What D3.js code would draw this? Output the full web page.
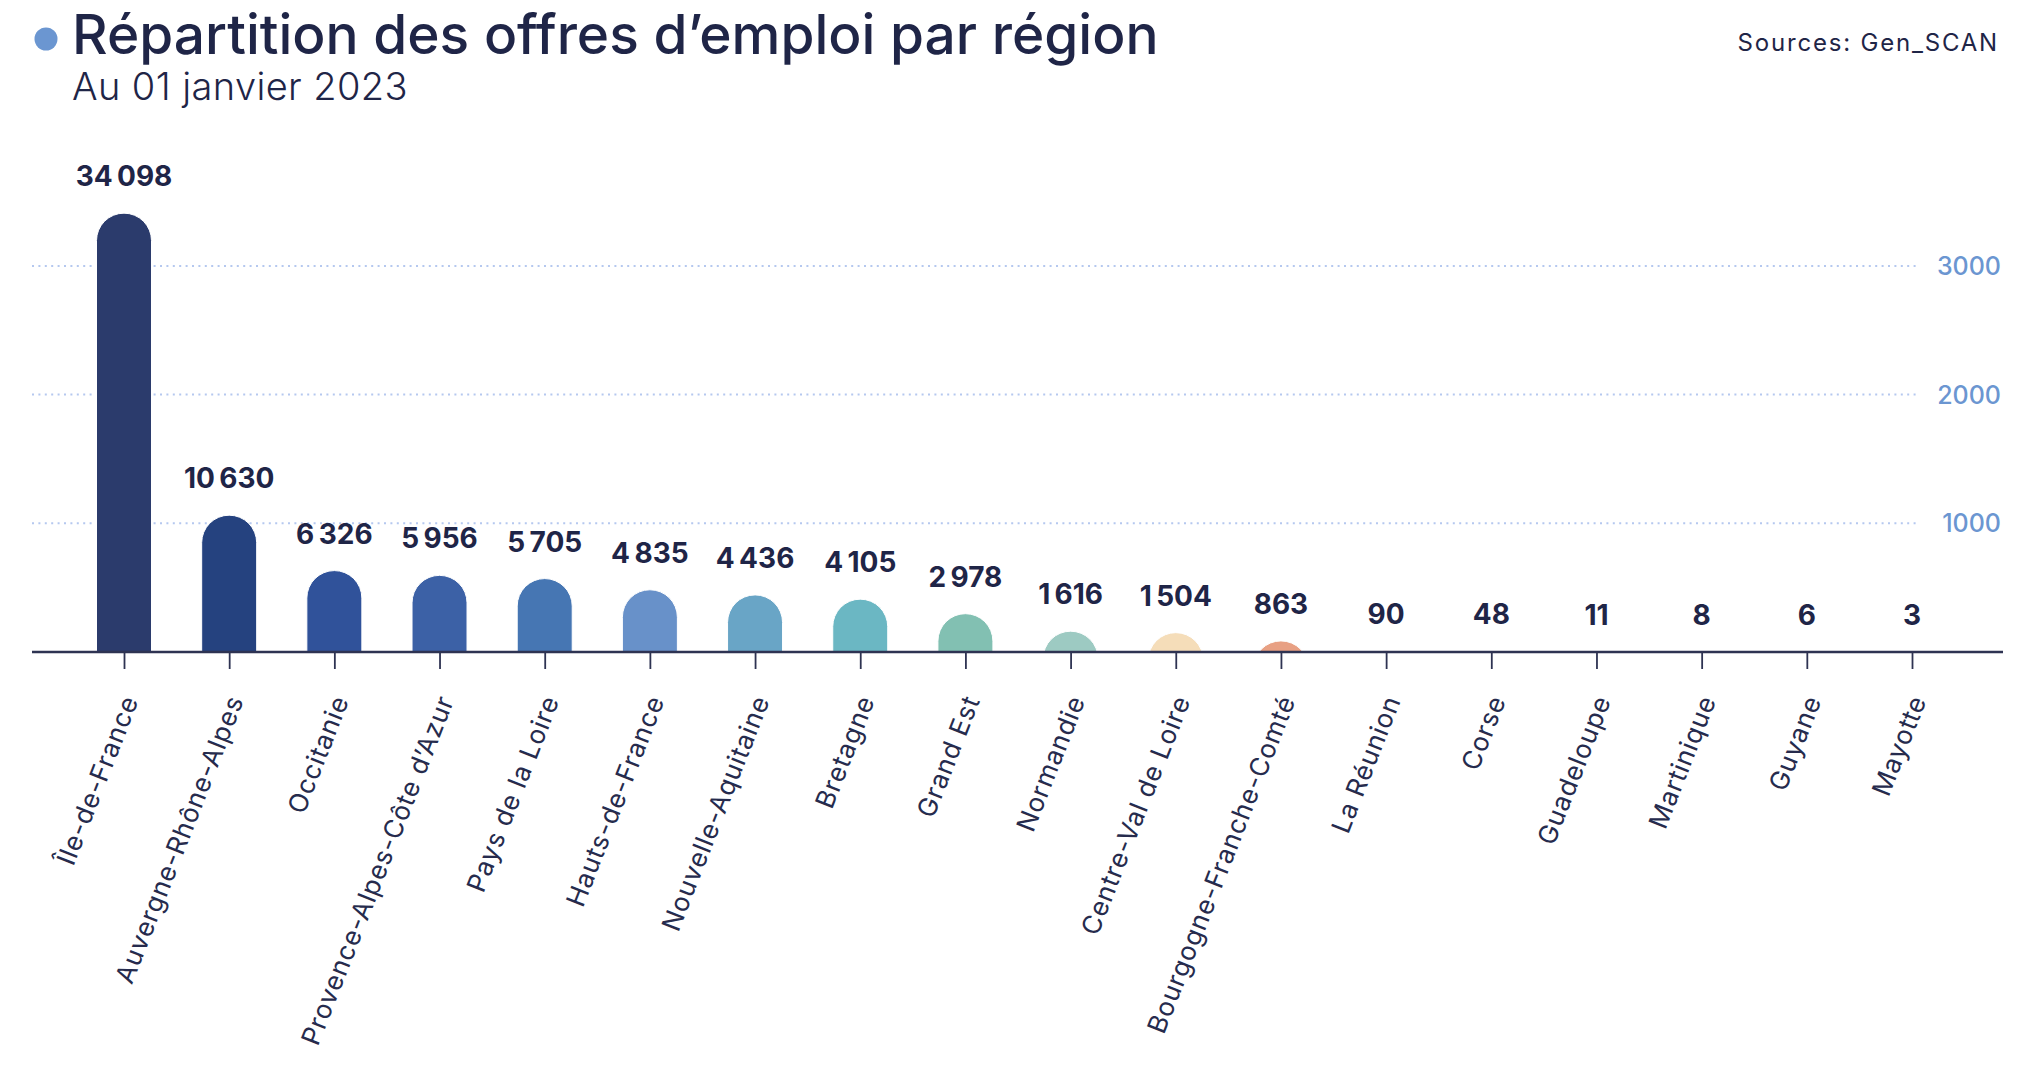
<!DOCTYPE html>
<html>
<head>
<meta charset="utf-8">
<script src="https://cdn.jsdelivr.net/npm/d3@7"></script>
<style>
  html, body { margin: 0; padding: 0; background: #ffffff; }
  svg { display: block; }
</style>
</head>
<body>
<svg id="chart" width="2022" height="1068"></svg>
<script>
const regions = ["Île-de-France", "Auvergne-Rhône-Alpes", "Occitanie", "Provence-Alpes-Côte d’Azur",
  "Pays de la Loire", "Hauts-de-France", "Nouvelle-Aquitaine", "Bretagne", "Grand Est", "Normandie",
  "Centre-Val de Loire", "Bourgogne-Franche-Comté", "La Réunion", "Corse", "Guadeloupe", "Martinique",
  "Guyane", "Mayotte"];
const offres = [34098, 10630, 6326, 5956, 5705, 4835, 4436, 4105, 2978, 1616, 1504, 863, 90, 48, 11, 8, 6, 3];
const barColors = ["#2b3b6c", "#25427f", "#30529a", "#3c61a6", "#4676b3", "#6891c9", "#69a5c6", "#6bb7c3",
  "#82c0b2", "#9dcac2", "#f5ddb9", "#e8a083", "#e08a70", "#d9735f", "#cf6155", "#c2504c", "#b24245", "#a1363f"];
const yTickValues = [1000, 2000, 3000];
const unitDivisor = 10; // bar heights on the axis are drawn in tens of offers

const title = "Répartition des offres d’emploi par région";
const subtitle = "Au 01 janvier 2023";
const source = "Sources: Gen_SCAN";

const svg = d3.select("#chart");
const FONT = "Inter, 'Noto Sans', sans-serif";
const NAVY = "#1f2547";
const BLUE = "#6b96d1";

const baseY = 652;
const x = d3.scalePoint().domain(regions).range([124, 1912]);
const y = d3.scaleLinear().domain([0, 1000]).range([baseY, baseY - 128.7]);
const barW = 55, r = barW / 2;

const fmt = d3.formatLocale({decimal: ",", thousands: "\u202f", grouping: [3], currency: ["", "€"]}).format(",d");

// gridlines
svg.append("g").selectAll("line").data(yTickValues).join("line")
  .attr("x1", 32).attr("x2", 1916)
  .attr("y1", d => y(d)).attr("y2", d => y(d))
  .attr("stroke", "#b5c8ef").attr("stroke-width", 2)
  .attr("stroke-dasharray", "2,4.4");

// y tick labels (right side)
svg.append("g").selectAll("text").data(yTickValues).join("text")
  .attr("x", 2001).attr("y", d => y(d))
  .attr("dy", "0.36em")
  .attr("text-anchor", "end")
  .attr("font-family", FONT).attr("font-size", 25).attr("font-weight", 500)
  .attr("fill", BLUE)
  .text(d => d);

// clip for bars
svg.append("defs").append("clipPath").attr("id", "plotclip")
  .append("rect").attr("x", 0).attr("y", 0).attr("width", 2022).attr("height", baseY);

const data = regions.map((name, i) => ({name, value: offres[i], color: barColors[i]}));

svg.append("g").attr("clip-path", "url(#plotclip)")
  .selectAll("rect").data(data).join("rect")
  .attr("x", d => x(d.name) - r)
  .attr("y", d => y(d.value / unitDivisor))
  .attr("width", barW)
  .attr("height", d => baseY - y(d.value / unitDivisor) + 2 * r)
  .attr("rx", r).attr("ry", r)
  .attr("fill", d => d.color)
  .attr("stroke", "#ffffff").attr("stroke-width", 1);

// value labels
svg.append("g").selectAll("text").data(data).join("text")
  .attr("x", d => x(d.name))
  .attr("y", d => y(d.value / unitDivisor) - 27)
  .attr("text-anchor", "middle")
  .attr("font-family", FONT).attr("font-size", 28).attr("font-weight", 700)
  .attr("fill", NAVY)
  .text(d => fmt(d.value));

// x axis
const xAxis = d3.axisBottom(x).tickSize(17).tickFormat("");
const gx = svg.append("g").attr("transform", `translate(0,${baseY})`).call(xAxis);
gx.select(".domain").remove();
gx.selectAll(".tick line").attr("stroke", "#2e3352").attr("stroke-width", 1.8);
svg.append("line").attr("x1", 32).attr("x2", 2003).attr("y1", baseY).attr("y2", baseY)
  .attr("stroke", "#2e3352").attr("stroke-width", 2.4);

// x labels rotated
svg.append("g").selectAll("text").data(regions).join("text")
  .attr("transform", d => `translate(${x(d) + 15},${baseY + 48}) rotate(-68.5)`)
  .attr("text-anchor", "end")
  .attr("font-family", FONT).attr("font-size", 26).attr("font-weight", 400)
  .attr("letter-spacing", 0.9)
  .attr("fill", "#262b4d")
  .text(d => d);

// title block
svg.append("circle").attr("cx", 46).attr("cy", 39).attr("r", 11.5).attr("fill", BLUE);
svg.append("text").attr("x", 72).attr("y", 54)
  .attr("font-family", FONT).attr("font-size", 55).attr("font-weight", 500)
  .attr("fill", NAVY).text(title);
svg.append("text").attr("x", 72).attr("y", 100)
  .attr("font-family", FONT).attr("font-size", 38).attr("font-weight", 300)
  .attr("letter-spacing", 0.4)
  .attr("fill", NAVY).text(subtitle);
svg.append("text").attr("x", 1999).attr("y", 51)
  .attr("text-anchor", "end")
  .attr("font-family", FONT).attr("font-size", 24).attr("font-weight", 400)
  .attr("letter-spacing", 1.8)
  .attr("fill", NAVY).text(source);
</script>
</body>
</html>
